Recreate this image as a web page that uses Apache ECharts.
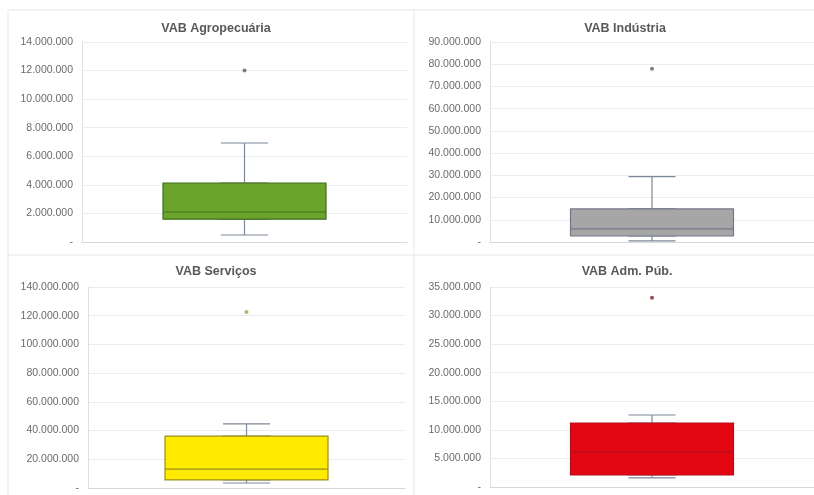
<!DOCTYPE html>
<html>
<head>
<meta charset="utf-8">
<script src="https://cdn.jsdelivr.net/npm/echarts@6/dist/echarts.min.js"></script>
<style>
  html, body { margin: 0; padding: 0; background: #fff; }
  #chart { width: 814px; height: 495px; }
</style>
</head>
<body>
<div id="chart"></div>
<script>
// dados
const panelTitles = ['VAB Agropecuária', 'VAB Indústria', 'VAB Serviços', 'VAB Adm. Púb.'];
// [mínimo, Q1, mediana, Q3, máximo]
const agroStats = [490000, 1600000, 2100000, 4130000, 6930000];
const industriaStats = [500000, 2700000, 5900000, 14900000, 29400000];
const servicosStats = [3500000, 5600000, 13200000, 36200000, 44600000];
const admPubStats = [1600000, 2100000, 6100000, 11200000, 12600000];
const outlierValues = [12000000, 78000000, 122600000, 33100000];
const axisMaxValues = [14000000, 90000000, 140000000, 35000000];
const axisSteps = [2000000, 10000000, 20000000, 5000000];

const allStats = [agroStats, industriaStats, servicosStats, admPubStats];

// estilo de cada painel
const fillColors = ['#6aa42a', '#a6a6a6', '#ffeb00', '#e30613'];
const borderColors = ['#3f6e1c', '#737885', '#9a8f1a', '#b5101c'];
const outlierColors = ['#5f5f5f', '#5f5f5f', '#a0a43c', '#8a1a28'];
const whiskerColor = '#7d8898';

const grids = [
  { left: 82, right: 407, top: 42, bottom: 242 },
  { left: 490, right: 814, top: 42, bottom: 242 },
  { left: 88, right: 405, top: 287, bottom: 488 },
  { left: 490, right: 814, top: 287, bottom: 487 },
];
const titleCenters = [[211, 17], [620, 17], [211, 260], [622, 260]];

function fmt(v) {
  if (v === 0) return '-';
  return String(v).replace(/\B(?=(\d{3})+(?!\d))/g, '.');
}

const chart = echarts.init(document.getElementById('chart'));

// dois eixos x por grade: um para os bigodes, outro para a caixa (evita deslocamento lateral)
const xAxes = [];
grids.forEach((g, i) => {
  xAxes.push({
    type: 'category',
    gridIndex: i,
    data: [''],
    axisLine: { show: true, lineStyle: { color: '#d9d9d9' } },
    axisTick: { show: false },
    axisLabel: { show: false }
  });
  xAxes.push({
    type: 'category',
    gridIndex: i,
    data: [''],
    show: false
  });
});

const option = {
  animation: false,
  backgroundColor: '#fff',
  title: panelTitles.map((t, i) => ({
    text: t,
    left: titleCenters[i][0],
    top: titleCenters[i][1],
    textAlign: 'center',
    textStyle: { fontSize: 12.5, fontWeight: 'bold', color: '#595959', fontFamily: 'Arial, Liberation Sans, sans-serif' }
  })),
  grid: grids.map(g => ({
    left: g.left, top: g.top, width: g.right - g.left, height: g.bottom - g.top
  })),
  xAxis: xAxes,
  yAxis: grids.map((g, i) => ({
    type: 'value',
    gridIndex: i,
    min: 0,
    max: axisMaxValues[i],
    interval: axisSteps[i],
    axisLine: { show: true, lineStyle: { color: '#e0e0e0' } },
    axisTick: { show: false },
    splitLine: { lineStyle: { color: '#ececec' } },
    axisLabel: {
      formatter: fmt,
      color: '#6b6b6b',
      fontSize: 10.5,
      margin: 9,
      fontFamily: 'Arial, Liberation Sans, sans-serif'
    }
  })),
  graphic: [
    { type: 'line', shape: { x1: 8, y1: 10, x2: 814, y2: 10 }, style: { stroke: '#e6e6e6', lineWidth: 1 } },
    { type: 'line', shape: { x1: 8, y1: 10, x2: 8, y2: 495 }, style: { stroke: '#e6e6e6', lineWidth: 1 } },
    { type: 'line', shape: { x1: 414, y1: 10, x2: 414, y2: 495 }, style: { stroke: '#e6e6e6', lineWidth: 1 } },
    { type: 'line', shape: { x1: 8, y1: 255, x2: 814, y2: 255 }, style: { stroke: '#e6e6e6', lineWidth: 1 } }
  ],
  series: []
};

allStats.forEach((s, i) => {
  // bigodes (tampas mais estreitas que a caixa)
  option.series.push({
    type: 'boxplot',
    xAxisIndex: 2 * i,
    yAxisIndex: i,
    boxWidth: [47, 47],
    itemStyle: { color: fillColors[i], borderColor: whiskerColor, borderWidth: 1.2 },
    data: [s]
  });
  // caixa com mediana
  option.series.push({
    type: 'boxplot',
    xAxisIndex: 2 * i + 1,
    yAxisIndex: i,
    boxWidth: [163, 163],
    z: 3,
    itemStyle: { color: fillColors[i], borderColor: borderColors[i], borderWidth: 1.2 },
    data: [[s[1], s[1], s[2], s[3], s[3]]]
  });
  // valor atípico
  option.series.push({
    type: 'scatter',
    xAxisIndex: 2 * i,
    yAxisIndex: i,
    symbolSize: 4,
    z: 4,
    itemStyle: { color: outlierColors[i] },
    data: [[0, outlierValues[i]]]
  });
});

chart.setOption(option);
</script>
</body>
</html>
